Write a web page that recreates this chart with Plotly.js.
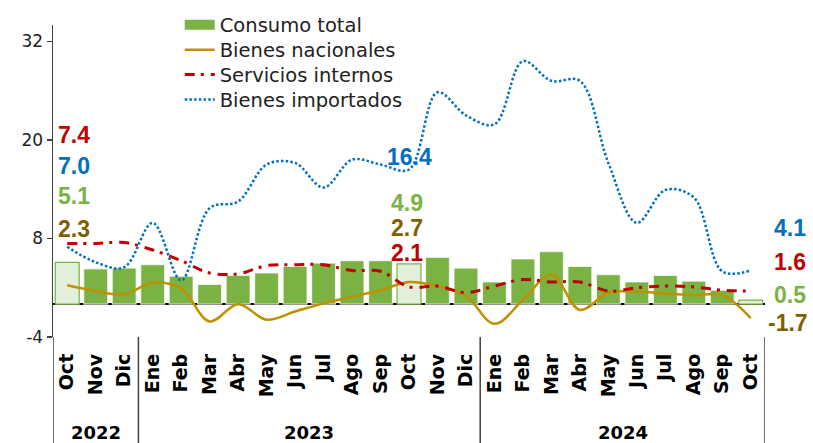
<!DOCTYPE html>
<html>
<head>
<meta charset="utf-8">
<script src="https://cdn.plot.ly/plotly-3.0.1.min.js"></script>
<style>html,body{margin:0;padding:0;background:#fff;}#chart{width:813px;height:443px;}</style>
</head>
<body>
<div id="chart"></div>
<script>
// Categories (Oct 2022 .. Oct 2024)
const months = ["Oct","Nov","Dic","Ene","Feb","Mar","Abr","May","Jun","Jul","Ago","Sep","Oct",
                "Nov","Dic","Ene","Feb","Mar","Abr","May","Jun","Jul","Ago","Sep","Oct"];
const years = ["2022","2023","2024"];
const yearCenters = [1, 8.5, 19.5];
const yearBounds = [-0.5, 2.5, 14.5, 24.5];

// Series values (% annual change)
const consumoTotal = [5.1, 4.3, 4.4, 4.8, 3.4, 2.4, 3.5, 3.8, 4.6, 5.0, 5.3, 5.3, 4.9,
                      5.7, 4.4, 2.7, 5.5, 6.4, 4.6, 3.6, 2.7, 3.5, 2.8, 1.7, 0.5];
const bienesNacionales = [2.3, 1.6, 1.2, 2.6, 1.9, -2.1, 0.0, -1.9, -0.9, 0.1, 0.9, 1.7, 2.7,
                          2.2, 1.0, -2.4, 0.5, 3.6, -0.7, 1.4, 1.5, 1.3, 1.1, 1.1, -1.7];
const serviciosInternos = [7.4, 7.4, 7.5, 6.6, 5.3, 3.8, 3.7, 4.7, 4.8, 4.8, 4.1, 4.0, 2.1,
                           2.2, 1.4, 2.2, 3.0, 2.7, 2.7, 1.6, 2.0, 2.2, 2.1, 1.7, 1.6];
const bienesImportados = [7.0, 5.1, 4.5, 9.9, 2.9, 11.7, 12.5, 17.0, 17.2, 14.2, 17.6, 17.0, 16.4,
                          25.8, 23.0, 21.9, 29.6, 27.2, 27.2, 17.2, 9.9, 13.9, 13.0, 4.0, 4.1];
const highlighted = [0, 12, 24]; // bars drawn light (Oct of each year)

const yTicks = [-4, 8, 20, 32];
const yTickText = ["-4", "8", "20", "32"];

const idx = months.map((_, i) => i);
const C_GREEN = "#7AB244", C_LIGHT = "#E2EFDA", C_GOLD = "#BF9000",
      C_RED = "#C00000", C_BLUE = "#0070C0", C_BROWN = "#7F6000";
const FONT = "DejaVu Sans";

const barFill = idx.map(i => highlighted.includes(i) ? C_LIGHT : C_GREEN);
const barLine = idx.map(i => highlighted.includes(i) ? C_GREEN : "rgba(255,255,255,0.7)");

const data = [
  {type: "scatter", mode: "lines", x: [null], y: [null], name: "Consumo total", legend: "legend",
   line: {color: C_GREEN, width: 14}, hoverinfo: "skip"},
  {type: "bar", x: idx, y: consumoTotal, name: "Consumo total", showlegend: false,
   marker: {color: barFill, line: {color: barLine, width: 1.2}}},
  {type: "scatter", mode: "lines", x: idx, y: bienesNacionales, name: "Bienes nacionales", legend: "legend2",
   line: {color: C_GOLD, width: 2.5, shape: "spline", smoothing: 1}},
  {type: "scatter", mode: "lines", x: idx, y: serviciosInternos, name: "Servicios internos", legend: "legend3",
   line: {color: C_RED, width: 3, shape: "spline", smoothing: 1, dash: "10px,6px,3px,7px"}},
  {type: "scatter", mode: "lines", x: idx, y: bienesImportados, name: "Bienes importados", legend: "legend4",
   line: {color: C_BLUE, width: 2.5, shape: "spline", smoothing: 1, dash: "2.5px,2.2px"}}
];

const n = months.length - 1;
function lab(xp, yv, text, color) {
  return {xref: "paper", yref: "y", x: xp, y: yv, text: text, showarrow: false,
          xanchor: "center", yanchor: "middle", height: 21, valign: "middle",
          font: {family: "Liberation Sans", size: 23, color: color, weight: "bold"}};
}
const annotations = [
  lab(0.030, 20.7, serviciosInternos[0].toFixed(1), C_RED),
  lab(0.030, 16.9, bienesImportados[0].toFixed(1), C_BLUE),
  lab(0.030, 13.2, consumoTotal[0].toFixed(1), C_GREEN),
  lab(0.030, 9.25, bienesNacionales[0].toFixed(1), C_BROWN),
  lab(0.500, 18.0, bienesImportados[12].toFixed(1), C_BLUE),
  lab(0.497, 12.4, consumoTotal[12].toFixed(1), C_GREEN),
  lab(0.497, 9.35, bienesNacionales[12].toFixed(1), C_BROWN),
  lab(0.497, 6.3, serviciosInternos[12].toFixed(1), C_RED),
  lab(1.035, 9.3, bienesImportados[n].toFixed(1), C_BLUE),
  lab(1.035, 5.2, serviciosInternos[n].toFixed(1), C_RED),
  lab(1.035, 1.15, consumoTotal[n].toFixed(1), C_GREEN),
  lab(1.032, -2.25, bienesNacionales[n].toFixed(1), C_BROWN)
];
years.forEach((y, i) => annotations.push({
  xref: "x", yref: "paper", x: yearCenters[i], y: -0.305, text: y, showarrow: false,
  xanchor: "center", yanchor: "middle",
  font: {family: FONT, size: 18, color: "#000", weight: "bold"}
}));

const shapes = yearBounds.map(b => ({
  type: "line", xref: "x", yref: "paper", x0: b, x1: b, y0: 0, y1: -0.36,
  line: {color: "#404040", width: 1.5}
}));

function leg(yp) {
  return {x: 0.178, y: yp, xanchor: "left", yanchor: "middle", bgcolor: "rgba(0,0,0,0)",
          borderwidth: 0, font: {family: FONT, size: 19.5, color: "#222"}};
}

const layout = {
  width: 813, height: 443,
  margin: {l: 53, r: 48, t: 25, b: 106, pad: 0, autoexpand: false},
  paper_bgcolor: "#fff", plot_bgcolor: "#fff",
  showlegend: true,
  legend: leg(1.0),
  legend2: leg(0.92),
  legend3: leg(0.84),
  legend4: leg(0.76),
  bargap: 0.16,
  xaxis: {range: [-0.5, 24.5], tickmode: "array", tickvals: idx, ticktext: months,
          tickangle: -90, showgrid: false, zeroline: false, showline: false, ticks: "",
          ticklabelstandoff: 12,
          tickfont: {family: FONT, size: 19, color: "#000", weight: "bold"}},
  yaxis: {range: [-4, 34], tickmode: "array", tickvals: yTicks, ticktext: yTickText, showgrid: false,
          ticks: "outside", ticklen: 5, tickwidth: 1.2, tickcolor: "#404040",
          showline: true, linecolor: "#404040", linewidth: 1.5,
          zeroline: true, zerolinecolor: "#000", zerolinewidth: 1.6,
          tickfont: {family: FONT, size: 17, color: "#222"}},
  annotations: annotations,
  shapes: shapes
};

Plotly.newPlot("chart", data, layout, {displayModeBar: false, staticPlot: true});
</script>
</body>
</html>
